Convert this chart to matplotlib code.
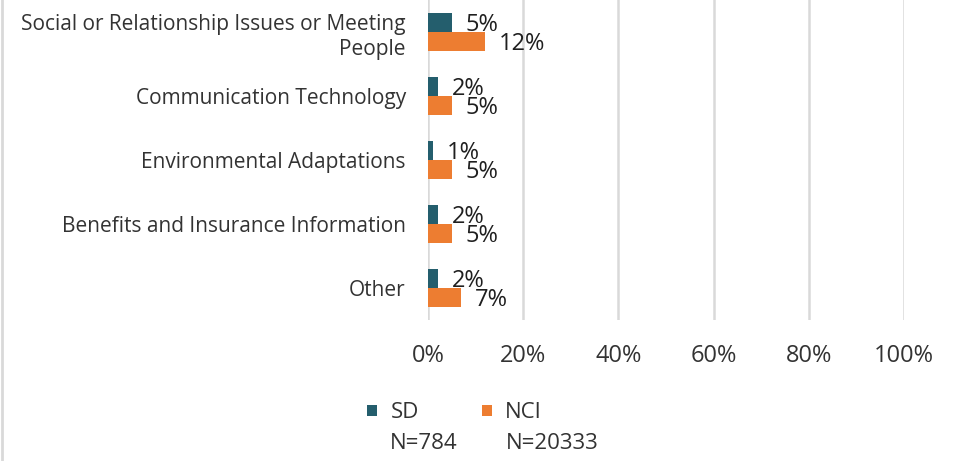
import matplotlib.pyplot as plt
from matplotlib.patches import Patch
from matplotlib.lines import Line2D
import numpy as np

categories = [
    "Social or Relationship Issues or Meeting\nPeople",
    "Communication Technology",
    "Environmental Adaptations",
    "Benefits and Insurance Information",
    "Other",
]
sd_values = [5, 2, 1, 2, 2]
nci_values = [12, 5, 5, 5, 7]
series_names = ["SD", "NCI"]
sample_sizes = ["N=784", "N=20333"]
x_ticks = [0, 20, 40, 60, 80, 100]

SD_COLOR = "#245E6D"
NCI_COLOR = "#ED7D31"
TEXT = "#333333"
LABEL = "#1F1F1F"
GRID = "#D9D9D9"

plt.rcParams["font.family"] = ["Open Sans", "DejaVu Sans"]

fig = plt.figure(figsize=(9.58, 4.61), dpi=100)
ax = fig.add_axes([428 / 958, 1 - 320 / 461, (904 - 428) / 958, 320 / 461])

y = np.arange(len(categories))
bh = 0.29
ax.barh(y - bh / 2, sd_values, height=bh, color=SD_COLOR, label="SD")
ax.barh(y + bh / 2, nci_values, height=bh, color=NCI_COLOR, label="NCI")

# value labels just past the end of each bar, centred on the bar
for offs, vals in ((-bh / 2, sd_values), (bh / 2, nci_values)):
    for yi, v in zip(y, vals):
        ax.annotate(f"{v}%", xy=(v, yi + offs), xytext=(10, -6.0),
                    textcoords="offset points", va="baseline", ha="left",
                    fontsize=17, color=LABEL)

ax.set_xlim(0, 100)
ax.set_ylim(len(categories) - 0.5, -0.5)
ax.set_xticks(x_ticks)
ax.set_xticklabels([f"{t}%" for t in x_ticks], fontsize=17, color=TEXT)
ax.set_yticks(y)
ax.set_yticklabels(categories, fontsize=15, color=TEXT, linespacing=1.25)
ax.tick_params(axis="x", length=0, pad=17)
ax.tick_params(axis="y", length=0, pad=16)
ax.grid(axis="x", color=GRID, linewidth=1.8)
ax.set_axisbelow(True)
for s in ax.spines.values():
    s.set_visible(False)

handles = [Patch(facecolor=SD_COLOR), Patch(facecolor=NCI_COLOR)]
fig.legend(handles, series_names, loc="center left", ncol=2,
           bbox_to_anchor=(367 / 958, 1 - 413 / 461), frameon=False,
           fontsize=16, handlelength=0.45, handleheight=0.42,
           handletextpad=0.6, columnspacing=2.85, borderpad=0,
           borderaxespad=0, labelcolor=TEXT)
fig.text(390 / 958, 1 - 443 / 461, sample_sizes[0], fontsize=16,
         color=TEXT, ha="left", va="center")
fig.text(506 / 958, 1 - 443 / 461, sample_sizes[1], fontsize=16,
         color=TEXT, ha="left", va="center")

fig.add_artist(Line2D([1.5 / 958, 1.5 / 958], [0, 1], color=GRID,
                      linewidth=2, transform=fig.transFigure))

fig.savefig("out.png", dpi=100, facecolor="white")
